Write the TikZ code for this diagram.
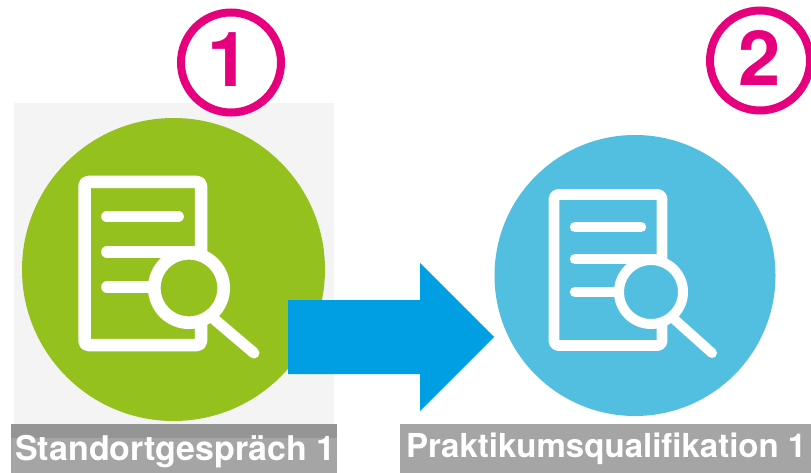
\documentclass[tikz,border=0pt]{standalone}
\usepackage{fontspec}
\setmainfont{TeX Gyre Heros}
\definecolor{pinkc}{HTML}{E6007E}
\definecolor{greenc}{HTML}{95C11F}
\definecolor{bluec}{HTML}{52BFE0}
\definecolor{arrowc}{HTML}{009FE3}
\definecolor{panelc}{HTML}{F4F4F4}
\definecolor{labelc}{HTML}{A4A5A4}
\definecolor{labeltop}{HTML}{939695}
\tikzset{
  icon/.style={draw=white,line cap=round,line join=round},
  badge/.style={circle,draw=pinkc,line width=8pt,fill=white,minimum size=100pt,inner sep=0pt},
  digit/.style={text=pinkc,font=\fontsize{76}{76}\selectfont\bfseries,anchor=base,inner sep=0pt},
  lbl/.style={text=white,font=\fontsize{34}{34}\selectfont\bfseries,anchor=base west,inner sep=0pt},
  disc/.style={circle,inner sep=0pt,draw=none},
}
\begin{document}
\begin{tikzpicture}[x=1pt,y=-1pt]
\useasboundingbox (0,0) rectangle (811,473);
\fill[white] (0,0) rectangle (811,473);
% panel
\fill[panelc] (14,103) rectangle (334,424);
% green disc
\node[disc,fill=greenc,minimum size=303pt] (d1) at (173.5,269.5) {};
\draw[icon,line width=12.5pt,rounded corners=4pt] (84.5,182) rectangle (201,345);
\draw[icon,line width=11.7pt] (107,216.5) -- (178,216.5);
\draw[icon,line width=11.7pt] (107,252) -- (195,252);
\draw[icon,line width=11.7pt] (107,287) -- (165,287);
\coordinate (h1a) at (214,319);
\coordinate (h1b) at (254,353);
\draw[icon,line width=11pt] (h1a) -- (h1b);
\node[disc,draw=white,fill=greenc,line width=12.7pt,minimum size=69.4pt] (l1) at (189,288) {};
% blue disc
\node[disc,fill=bluec,minimum size=281pt] (d2) at (635,275.5) {};
\draw[icon,line width=10.7pt,rounded corners=4pt] (554,194.5) rectangle (662,345.5);
\draw[icon,line width=10.5pt] (575,227) -- (641,227);
\draw[icon,line width=10.5pt] (575,259) -- (657,259);
\draw[icon,line width=10.5pt] (575,292) -- (630,292);
\coordinate (h2a) at (674,319);
\coordinate (h2b) at (712,353);
\draw[icon,line width=10pt] (h2a) -- (h2b);
\node[disc,draw=white,fill=bluec,line width=10pt,minimum size=64pt] (l2) at (651,292) {};
% arrow
\fill[arrowc] (288,300) -- (420,300) -- (420,263) -- (494,337) -- (420,411) -- (420,374) -- (288,374) -- cycle;
% badges
\node[badge] (b1) at (231,62.5) {};
\node[digit] (n1) at (229,87) {1};
\node[badge] (b2) at (760,60.5) {};
\node[digit] (n2) at (760,86) {2};
% labels
\fill[labelc] (11,424) rectangle (337,473);
\fill[labeltop] (11,424) rectangle (337,438);
\fill[labelc] (400,424) rectangle (811,473);
\node[lbl] (t1) at (15,460) {Standortgespräch 1};
\node[lbl,font=\fontsize{33}{33}\selectfont\bfseries] (t2) at (406,457) {Praktikumsqualifikation 1};
\end{tikzpicture}
\end{document}
